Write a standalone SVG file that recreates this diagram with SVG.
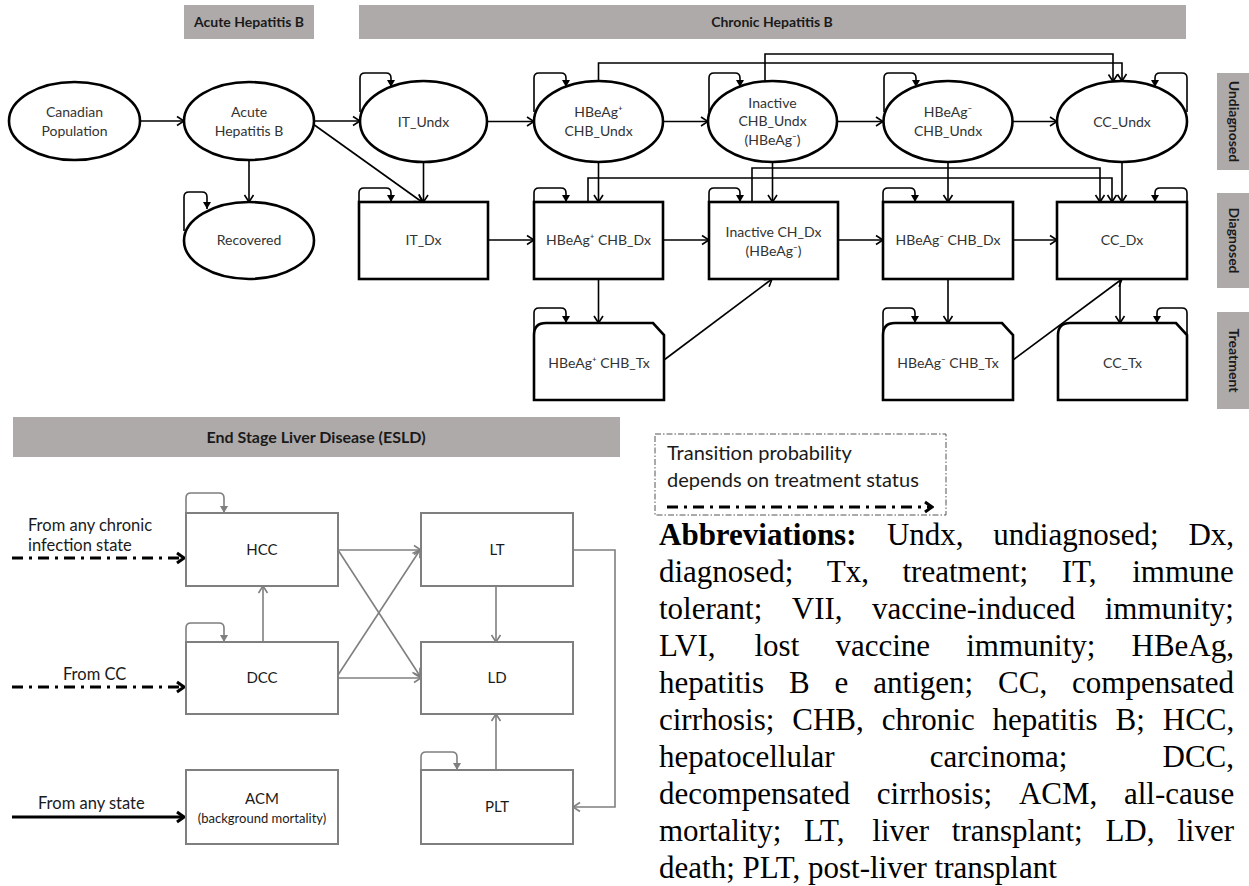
<svg xmlns="http://www.w3.org/2000/svg" width="1249" height="886" viewBox="0 0 1249 886">
<defs>
<style>
.lbl{font-family:Lato,"Open Sans","Liberation Sans",sans-serif;font-size:14px;fill:#333;text-anchor:middle}
.glbl{font-family:Lato,"Open Sans","Liberation Sans",sans-serif;font-size:15px;fill:#1a1a1a;text-anchor:middle}
.side{font-family:Lato,"Open Sans","Liberation Sans",sans-serif;font-size:14px;font-weight:bold;fill:#1a1a1a;text-anchor:middle}
.hdr{fill:#aeaaaa}
.ht{font-family:Lato,"Open Sans","Liberation Sans",sans-serif;font-size:14px;font-weight:bold;fill:#1a1a1a;text-anchor:middle}
.n{fill:#fff;stroke:#000;stroke-width:2.6}
.gn{fill:#fff;stroke:#7f7f7f;stroke-width:2}
.c{fill:none;stroke:#000;stroke-width:1.6;marker-end:url(#arr)}
.l{fill:none;stroke:#000;stroke-width:1.6;marker-end:url(#tri)}
.gc{fill:none;stroke:#7f7f7f;stroke-width:1.6;marker-end:url(#garr)}
.gl{fill:none;stroke:#7f7f7f;stroke-width:1.6;marker-end:url(#gtri)}
.dd{fill:none;stroke:#000;stroke-width:3;stroke-dasharray:11 6 3 6;marker-end:url(#barr)}
.so{fill:none;stroke:#000;stroke-width:3;marker-end:url(#barr)}
.src{font-family:Lato,"Open Sans","Liberation Sans",sans-serif;font-size:16.5px;fill:#1a1a1a}
.leg{font-family:Lato,"Open Sans","Liberation Sans",sans-serif;font-size:20px;fill:#1a1a1a}
.ab{font-family:"Liberation Serif","Times New Roman",serif;font-size:31px;fill:#000}
</style>
<marker id="arr" markerUnits="userSpaceOnUse" markerWidth="12" markerHeight="12" viewBox="0 0 12 12" refX="11" refY="6" orient="auto"><path d="M4,1.5 L11,6 L4,10.5" fill="none" stroke="#000" stroke-width="1.6"/></marker>
<marker id="tri" markerUnits="userSpaceOnUse" markerWidth="10" markerHeight="10" viewBox="0 0 10 10" refX="9" refY="5" orient="auto"><path d="M2,1 L9,5 L2,9 Z" fill="#000"/></marker>
<marker id="garr" markerUnits="userSpaceOnUse" markerWidth="12" markerHeight="12" viewBox="0 0 12 12" refX="11" refY="6" orient="auto"><path d="M4,1.5 L11,6 L4,10.5" fill="none" stroke="#7f7f7f" stroke-width="1.6"/></marker>
<marker id="gtri" markerUnits="userSpaceOnUse" markerWidth="10" markerHeight="10" viewBox="0 0 10 10" refX="9" refY="5" orient="auto"><path d="M2,1 L9,5 L2,9 Z" fill="#7f7f7f"/></marker>
<marker id="barr" markerUnits="userSpaceOnUse" markerWidth="14" markerHeight="14" viewBox="0 0 14 14" refX="12" refY="7" orient="auto"><path d="M5,2 L12,7 L5,12" fill="none" stroke="#000" stroke-width="3"/></marker>
</defs>
<rect width="1249" height="886" fill="#fff"/>

<!-- headers -->
<g id="headers">
<rect class="hdr" x="184" y="5" width="130" height="34"/>
<text class="ht" x="249" y="27">Acute Hepatitis B</text>
<rect class="hdr" x="359" y="5" width="827" height="34"/>
<text class="ht" x="772" y="27">Chronic Hepatitis B</text>
<rect class="hdr" x="1217" y="73" width="32" height="97"/>
<text class="side" transform="translate(1229,121.5) rotate(90)">Undiagnosed</text>
<rect class="hdr" x="1217" y="193" width="32" height="95"/>
<text class="side" transform="translate(1229,240.5) rotate(90)">Diagnosed</text>
<rect class="hdr" x="1217" y="312" width="32" height="97"/>
<text class="side" transform="translate(1229,360.5) rotate(90)">Treatment</text>
<rect class="hdr" x="13" y="417" width="607" height="40"/>
<text class="ht" x="316" y="443" style="font-size:16px">End Stage Liver Disease (ESLD)</text>
</g>

<!-- connectors -->
<g id="connectors">
<path class="c" d="M140,121 H184"/>
<path class="c" d="M249,160 V202"/>
<path class="c" d="M314,121 H360"/>
<path class="c" d="M313,124 L422,202"/>
<path class="c" d="M423.5,162 V202"/>
<path class="c" d="M487,121.5 H534"/>
<path class="c" d="M488,240 H534"/>
<path class="c" d="M598.5,162 V202"/>
<path class="c" d="M663,121.5 H708"/>
<path class="c" d="M663,240 H709"/>
<path class="c" d="M598.5,279 V323"/>
<path class="c" d="M598.5,81 V63 H1122 V81"/>
<path class="c" d="M765,82 V54 H1113 V81.5"/>
<path class="c" d="M588,202 V178 H1112 V202"/>
<path class="c" d="M752,202 V168 H1100 V202"/>
<path class="c" d="M772.5,162 V202"/>
<path class="c" d="M837,121.5 H883"/>
<path class="c" d="M838,240 H883"/>
<path class="c" d="M948,162 V202"/>
<path class="c" d="M1012,121.5 H1057"/>
<path class="c" d="M1013,240 H1057"/>
<path class="c" d="M1122,162 V202"/>
<path class="c" d="M948,279 V323"/>
<path class="c" d="M1120,279 V323"/>
<path class="c" d="M664,360 L772,279"/>
<path class="c" d="M1013,360 L1122,279"/>
<!-- self loops -->
<path class="l" d="M184,231 V197 Q184,192 189,192 H202 Q207,192 207,197 V209"/>
<path class="l" d="M360,112 V78 Q360,73 365,73 H386 Q391,73 391,78 V87"/>
<path class="l" d="M534,112 V78 Q534,73 539,73 H561 Q566,73 566,78 V87"/>
<path class="l" d="M709,112 V78 Q709,73 714,73 H735 Q740,73 740,78 V87"/>
<path class="l" d="M884,112 V78 Q884,73 889,73 H911 Q916,73 916,78 V87"/>
<path class="l" d="M1187,112 V78 Q1187,73 1182,73 H1160 Q1155,73 1155,78 V87"/>
<path class="l" d="M359,202 V193 Q359,188 364,188 H386 Q391,188 391,193 V202"/>
<path class="l" d="M534,202 V193 Q534,188 539,188 H561 Q566,188 566,193 V202"/>
<path class="l" d="M709,202 V193 Q709,188 714,188 H735 Q740,188 740,193 V202"/>
<path class="l" d="M883,202 V193 Q883,188 888,188 H910 Q915,188 915,193 V202"/>
<path class="l" d="M1187,202 V193 Q1187,188 1182,188 H1160 Q1155,188 1155,193 V202"/>
<path class="l" d="M534,335 V313 Q534,308 539,308 H561 Q566,308 566,313 V323"/>
<path class="l" d="M883,335 V313 Q883,308 888,308 H910 Q915,308 915,313 V323"/>
<path class="l" d="M1187,335 V313 Q1187,308 1182,308 H1162 Q1157,308 1157,313 V323"/>
<!-- ESLD -->
<path class="gc" d="M338,550 H421"/>
<path class="gc" d="M338,550 L420,676"/>
<path class="gc" d="M338,675 L420,550"/>
<path class="gc" d="M338,678 H421"/>
<path class="gc" d="M263,642 V586"/>
<path class="gc" d="M496,586 V642"/>
<path class="gc" d="M496,770 V714"/>
<path class="gc" d="M573,550 H615 V807 H573"/>
<path class="gl" d="M186,513 V498 Q186,493 191,493 H219 Q224,493 224,498 V513"/>
<path class="gl" d="M186,642 V628 Q186,623 191,623 H219 Q224,623 224,628 V642"/>
<path class="gl" d="M421,770 V757 Q421,752 426,752 H452 Q457,752 457,757 V770"/>
<path class="dd" d="M12,558 H184"/>
<path class="dd" d="M12,687 H184"/>
<path class="so" d="M12,817 H184"/>
</g>

<!-- nodes -->
<g id="canadian_population"><ellipse class="n" cx="74.5" cy="121" rx="65.5" ry="39"/><text class="lbl" x="74.5" y="117">Canadian</text><text class="lbl" x="74.5" y="136">Population</text></g>
<g id="acute_hepatitis_b"><ellipse class="n" cx="249" cy="121" rx="65" ry="39"/><text class="lbl" x="249" y="117">Acute</text><text class="lbl" x="249" y="136">Hepatitis B</text></g>
<g id="recovered"><ellipse class="n" cx="249" cy="240.5" rx="65" ry="38.5"/><text class="lbl" x="249" y="245">Recovered</text></g>
<g id="it_undx"><ellipse class="n" cx="423.5" cy="121.5" rx="63.5" ry="40.5"/><text class="lbl" x="423.5" y="127">IT_Undx</text></g>
<g id="hbeagpos_undx"><ellipse class="n" cx="598.5" cy="121.5" rx="64.5" ry="40.5"/><text class="lbl" x="598.5" y="117">HBeAg⁺</text><text class="lbl" x="598.5" y="136">CHB_Undx</text></g>
<g id="inactive_undx"><ellipse class="n" cx="772.5" cy="121.5" rx="64.5" ry="40.5"/><text class="lbl" x="772.5" y="108">Inactive</text><text class="lbl" x="772.5" y="126">CHB_Undx</text><text class="lbl" x="772.5" y="145">(HBeAg⁻)</text></g>
<g id="hbeagneg_undx"><ellipse class="n" cx="948" cy="121.5" rx="64.5" ry="40.5"/><text class="lbl" x="948" y="117">HBeAg⁻</text><text class="lbl" x="948" y="136">CHB_Undx</text></g>
<g id="cc_undx"><ellipse class="n" cx="1122" cy="121.5" rx="65" ry="40.5"/><text class="lbl" x="1122" y="127">CC_Undx</text></g>

<g id="it_dx"><rect class="n" x="359" y="202" width="129" height="77"/><text class="lbl" x="423.5" y="245">IT_Dx</text></g>
<g id="hbeagpos_dx"><rect class="n" x="534" y="202" width="129" height="77"/><text class="lbl" x="598.5" y="245">HBeAg⁺ CHB_Dx</text></g>
<g id="inactive_dx"><rect class="n" x="709" y="202" width="129" height="77"/><text class="lbl" x="773.5" y="237">Inactive CH_Dx</text><text class="lbl" x="773.5" y="256">(HBeAg⁻)</text></g>
<g id="hbeagneg_dx"><rect class="n" x="883" y="202" width="130" height="77"/><text class="lbl" x="948" y="245">HBeAg⁻ CHB_Dx</text></g>
<g id="cc_dx"><rect class="n" x="1057" y="202" width="130" height="77"/><text class="lbl" x="1122" y="245">CC_Dx</text></g>

<g id="hbeagpos_tx"><path class="n" d="M534,400 V335 Q534,323 546,323 H653 L664,335 V400 Z"/><text class="lbl" x="599" y="368">HBeAg⁺ CHB_Tx</text></g>
<g id="hbeagneg_tx"><path class="n" d="M883,400 V335 Q883,323 895,323 H1002 L1013,335 V400 Z"/><text class="lbl" x="948" y="368">HBeAg⁻ CHB_Tx</text></g>
<g id="cc_tx"><path class="n" d="M1058,400 V335 Q1058,323 1070,323 H1176 L1187,335 V400 Z"/><text class="lbl" x="1122.5" y="368">CC_Tx</text></g>

<g id="hcc"><rect class="gn" x="186" y="513" width="152" height="73"/><text class="glbl" x="262" y="555">HCC</text></g>
<g id="lt"><rect class="gn" x="421" y="513" width="152" height="73"/><text class="glbl" x="497" y="555">LT</text></g>
<g id="dcc"><rect class="gn" x="186" y="642" width="152" height="72"/><text class="glbl" x="262" y="683">DCC</text></g>
<g id="ld"><rect class="gn" x="421" y="642" width="152" height="72"/><text class="glbl" x="497" y="683">LD</text></g>
<g id="acm"><rect class="gn" x="186" y="770" width="152" height="74"/><text class="glbl" x="262" y="804">ACM</text><text class="glbl" x="262" y="823" style="font-size:13px">(background mortality)</text></g>
<g id="plt"><rect class="gn" x="421" y="770" width="152" height="74"/><text class="glbl" x="497" y="812">PLT</text></g>

<g id="sources">
<text class="src" x="28" y="531">From any chronic</text>
<text class="src" x="28" y="551">infection state</text>
<text class="src" x="63" y="680">From CC</text>
<text class="src" x="38" y="809">From any state</text>
</g>

<g id="legend">
<rect x="655" y="434" width="291" height="81" fill="none" stroke="#555" stroke-width="1" stroke-dasharray="6 2 1.5 2"/>
<text class="leg" x="667" y="460">Transition probability</text>
<text class="leg" x="667" y="487">depends on treatment status</text>
<path class="dd" d="M667,507 H932"/>
</g>

<g id="abbreviations" class="ab">
<text y="545"><tspan x="659" font-weight="bold">Abbreviations:</tspan><tspan x="886.9">Undx,</tspan><tspan x="993.3">undiagnosed;</tspan><tspan x="1188.4">Dx,</tspan></text>
<text y="582"><tspan x="659">diagnosed;</tspan><tspan x="826.8">Tx,</tspan><tspan x="902.5">treatment;</tspan><tspan x="1061.7">IT,</tspan><tspan x="1132.2">immune</tspan></text>
<text y="619"><tspan x="659">tolerant;</tspan><tspan x="791.8">VII,</tspan><tspan x="872.1">vaccine-induced</tspan><tspan x="1104.7">immunity;</tspan></text>
<text y="656"><tspan x="659">LVI,</tspan><tspan x="754.5">lost</tspan><tspan x="835.4">vaccine</tspan><tspan x="966.2">immunity;</tspan><tspan x="1131.5">HBeAg,</tspan></text>
<text y="693"><tspan x="659">hepatitis</tspan><tspan x="789">B</tspan><tspan x="834.6">e</tspan><tspan x="873.3">antigen;</tspan><tspan x="998.1">CC,</tspan><tspan x="1072.1">compensated</tspan></text>
<text y="730"><tspan x="659">cirrhosis;</tspan><tspan x="792.3">CHB,</tspan><tspan x="881.7">chronic</tspan><tspan x="992.6">hepatitis</tspan><tspan x="1115.6">B;</tspan><tspan x="1162.8">HCC,</tspan></text>
<text y="767"><tspan x="659">hepatocellular</tspan><tspan x="929.7">carcinoma;</tspan><tspan x="1234" text-anchor="end">DCC,</tspan></text>
<text y="804"><tspan x="659">decompensated</tspan><tspan x="876.8">cirrhosis;</tspan><tspan x="1018.9">ACM,</tspan><tspan x="1124">all-cause</tspan></text>
<text y="841"><tspan x="659">mortality;</tspan><tspan x="804">LT,</tspan><tspan x="872.3">liver</tspan><tspan x="951.8">transplant;</tspan><tspan x="1105.4">LD,</tspan><tspan x="1177.2">liver</tspan></text>
<text y="878" x="659">death; PLT, post-liver transplant</text>
</g>
</svg>
